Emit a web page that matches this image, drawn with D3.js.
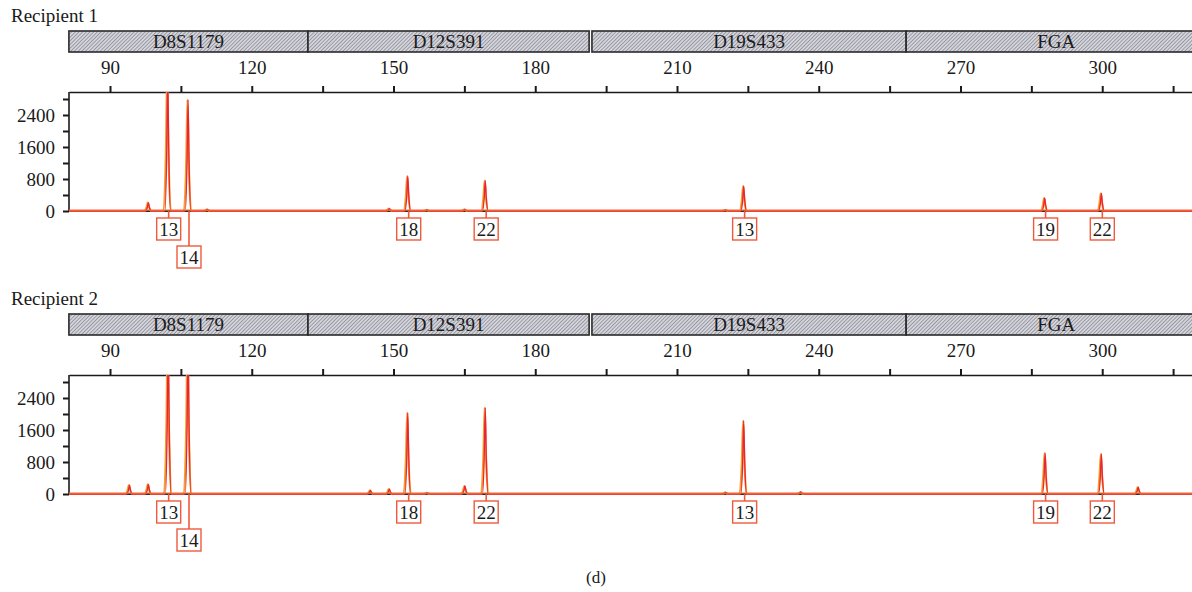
<!DOCTYPE html>
<meta charset="utf-8">
<style>
body { margin: 0; background: #fff; }
svg text { font-family: "Liberation Serif", "Times New Roman", serif; fill: #1a1a1a; }
.axis path, .axis line { stroke: #1a1a1a; }
</style>
<body>
<script src="https://cdn.jsdelivr.net/npm/d3@7"></script>
<script>

// marker panels (bp ranges)
var markerNames = ["D8S1179", "D12S391", "D19S433", "FGA"];
var markerStart = [81.3, 131.9, 192.0, 258.5];
var markerEnd   = [131.9, 191.4, 258.5, 322.0];

// top axis ticks (bp)
var sizeTicks = [90, 105, 120, 135, 150, 165, 180, 195, 210, 225, 240, 255, 270, 285, 300, 315];
var rfuTicks = [0, 400, 800, 1200, 1600, 2000, 2400, 2800];

// Recipient 1 peaks
var r1Pos    = [98.0, 102.1, 106.4, 110.5, 149.0, 152.9, 157.0, 165.0, 169.3, 220.2, 224.0, 287.7, 299.7];
var r1Height = [210, 3400, 2780, 40, 60, 870, 30, 40, 760, 30, 620, 320, 440];

// Recipient 2 peaks
var r2Pos    = [94.0, 98.0, 102.2, 106.4, 145.0, 149.0, 152.9, 157.0, 165.0, 169.3, 220.2, 224.0, 236.1, 287.8, 299.7, 307.5];
var r2Height = [220, 240, 3800, 3800, 90, 120, 2030, 30, 200, 2160, 40, 1830, 50, 1020, 1000, 170];

// allele calls (same for both)
var alleleNames = ["13", "14", "18", "22", "13", "19", "22"];
var allelePos   = [102.1, 106.4, 152.9, 169.3, 224.0, 287.7, 299.7];
var alleleRow   = [0, 1, 0, 0, 0, 0, 0];

var W = 1192, H = 592;
var FONT = "'Liberation Serif', 'Times New Roman', serif";
var svg = d3.select("body").append("svg").attr("width", W).attr("height", H)
    .attr("font-family", FONT);

var defs = svg.append("defs");
var pat = defs.append("pattern")
    .attr("id", "hatch")
    .attr("patternUnits", "userSpaceOnUse")
    .attr("width", 2.6).attr("height", 2.6)
    .attr("patternTransform", "rotate(45)");
pat.append("rect").attr("width", 2.6).attr("height", 2.6).attr("fill", "#d4d4dc");
pat.append("line").attr("x1", 0).attr("y1", 0).attr("x2", 0).attr("y2", 2.6)
    .attr("stroke", "#6e6e78").attr("stroke-width", 1.1);

var x = d3.scaleLinear().domain([81.32, 319.0]).range([69, 1192]);

function peakPoints(pos, hts, w) {
  var pts = [[x.domain()[0], 0]];
  pos.forEach(function(p, i) {
    pts.push([p - w, 0]);
    pts.push([p - w * 0.35, hts[i] * 0.45]);
    pts.push([p, hts[i]]);
    pts.push([p + w * 0.35, hts[i] * 0.45]);
    pts.push([p + w, 0]);
  });
  pts.push([x.domain()[1], 0]);
  return pts;
}

function drawPanel(idx, dy, title, pos, hts) {
  var g = svg.append("g").attr("transform", "translate(0," + dy + ")");
  var top = 92, zero = 211;
  var y = d3.scaleLinear().domain([0, 2975]).range([zero, top]);

  g.append("text").attr("x", 11).attr("y", 22)
    .attr("font-family", FONT).attr("font-size", 19).text(title);

  // marker bar
  var bars = g.selectAll(".marker").data(markerNames).enter().append("g");
  bars.append("rect")
    .attr("x", function(d, i) { return x(markerStart[i]); })
    .attr("y", 31)
    .attr("width", function(d, i) { return x(markerEnd[i]) - x(markerStart[i]); })
    .attr("height", 21)
    .attr("fill", "url(#hatch)")
    .attr("stroke", "#2a2a2a").attr("stroke-width", 1.6);
  bars.append("text")
    .attr("x", function(d, i) { return (x(markerStart[i]) + x(markerEnd[i])) / 2; })
    .attr("y", 48)
    .attr("text-anchor", "middle")
    .attr("font-family", FONT).attr("font-size", 19)
    .text(function(d) { return d; });

  // top axis
  var ax = g.append("g").attr("class", "axis").attr("transform", "translate(0," + top + ")")
    .call(d3.axisTop(x).tickValues(sizeTicks).tickSize(6).tickSizeOuter(0)
      .tickFormat(function(d) { return d % 30 == 0 ? d : ""; }));
  ax.attr("font-family", FONT).attr("font-size", 19);
  ax.selectAll("line").attr("stroke-width", 2);
  ax.select(".domain").attr("stroke-width", 1.6);
  ax.selectAll("text").attr("dy", "-0.45em").attr("fill", "#1a1a1a");

  // left axis
  var ay = g.append("g").attr("class", "axis").attr("transform", "translate(69,0)")
    .call(d3.axisLeft(y).tickValues(rfuTicks).tickSize(6).tickSizeOuter(0)
      .tickFormat(function(d) { return d % 800 == 0 ? d : ""; }));
  ay.attr("font-family", FONT).attr("font-size", 19);
  ay.selectAll("line").attr("stroke-width", 2);
  ay.select(".domain").attr("stroke-width", 1.6).attr("d", "M0," + top + "V" + zero);
  ay.selectAll("text").attr("x", -14).attr("fill", "#1a1a1a");

  // baseline
  g.append("line").attr("x1", 69).attr("x2", 1192).attr("y1", zero).attr("y2", zero)
    .attr("stroke", "#2a2a2a").attr("stroke-width", 1.8);

  defs.append("clipPath").attr("id", "clip" + idx)
    .append("rect").attr("x", 69).attr("y", top).attr("width", 1192 - 69).attr("height", zero - top + 1);

  var line = d3.line()
    .x(function(d) { return x(d[0]); })
    .y(function(d) { return y(d[1]); })
    .curve(d3.curveMonotoneX);

  var traces = g.append("g").attr("clip-path", "url(#clip" + idx + ")");
  traces.append("path")
    .attr("d", line(peakPoints(pos, hts, 0.75)))
    .attr("fill", "none").attr("stroke", "#f5a02a").attr("stroke-width", 2.2);
  traces.append("path")
    .attr("d", line(peakPoints(pos.map(function(p) { return p + 0.12; }), hts, 0.6)))
    .attr("fill", "none").attr("stroke", "#e8243a").attr("stroke-width", 1.3);
  traces.append("line").attr("x1", 69).attr("x2", 1192).attr("y1", zero - 0.8).attr("y2", zero - 0.8)
    .attr("stroke", "#ee6a3a").attr("stroke-width", 1.2);

  // allele labels
  var lab = g.selectAll(".allele").data(alleleNames).enter().append("g");
  lab.append("line")
    .attr("x1", function(d, i) { return x(allelePos[i]) + 1.5; })
    .attr("x2", function(d, i) { return x(allelePos[i]) + 1.5; })
    .attr("y1", zero)
    .attr("y2", function(d, i) { return 218 + alleleRow[i] * 28; })
    .attr("stroke", "#f05a3c").attr("stroke-width", 1.6);
  lab.append("rect")
    .attr("x", function(d, i) { return x(allelePos[i]) + 1.5 - 12; })
    .attr("y", function(d, i) { return 218 + alleleRow[i] * 28; })
    .attr("width", 24).attr("height", 22)
    .attr("fill", "#fff")
    .attr("stroke", "#f05a3c").attr("stroke-width", 1.4);
  lab.append("text")
    .attr("x", function(d, i) { return x(allelePos[i]) + 1.5; })
    .attr("y", function(d, i) { return 236 + alleleRow[i] * 28; })
    .attr("text-anchor", "middle")
    .attr("font-family", FONT).attr("font-size", 19)
    .text(function(d) { return d; });
}

drawPanel(1, 0, "Recipient 1", r1Pos, r1Height);
drawPanel(2, 283, "Recipient 2", r2Pos, r2Height);

svg.append("text").attr("x", 596).attr("y", 583).attr("text-anchor", "middle")
  .attr("font-family", FONT).attr("font-size", 17).text("(d)");

</script>
</body>
